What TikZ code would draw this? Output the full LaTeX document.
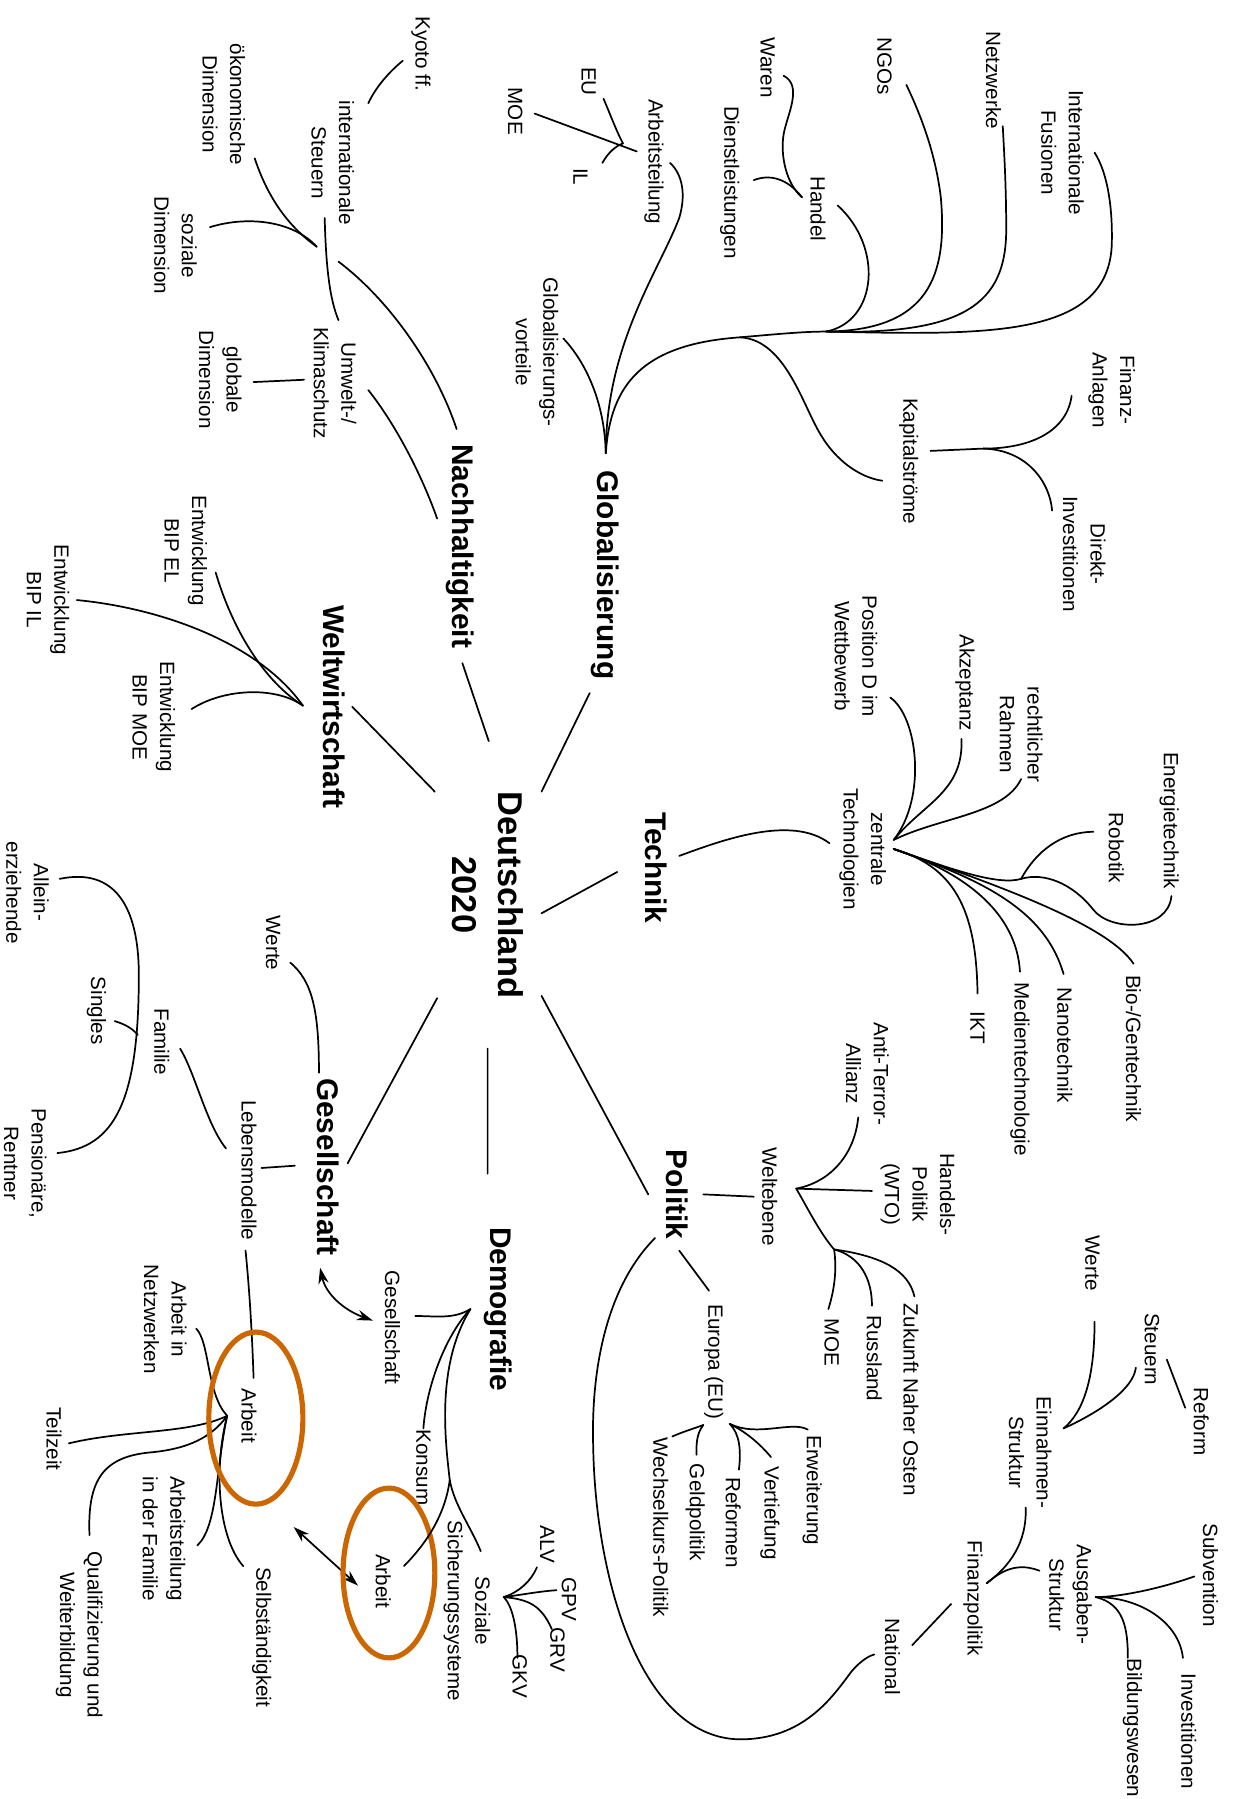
\documentclass[tikz,border=0pt]{standalone}
\usepackage{fontspec}
\setmainfont{Liberation Sans}
\usepackage{tikz}
\usetikzlibrary{calc, positioning, arrows.meta}
\definecolor{ringorange}{RGB}{204,102,0}

\begin{document}
\begin{tikzpicture}[x=1pt,y=-1pt,
 lbl/.style={rotate=-90,align=center,inner sep=0pt,font=\fontsize{18}{24}\selectfont},
 hd/.style={rotate=-90,align=center,inner sep=0pt,font=\bfseries\fontsize{26}{30}\selectfont},
 ln/.style={line width=1.5pt,line cap=round},
 ring/.style={draw=ringorange,line width=4.5pt},
 dbl/.style={ln,arrows={Stealth[length=14pt,width=9pt]-Stealth[length=14pt,width=9pt]}}]
\useasboundingbox (0,0) rectangle (1074,1568);

%centre and main branches
\node[hd,font=\bfseries\fontsize{30}{40}\selectfont] (d2020) at (425,780) {Deutschland\\2020};
\node[hd] (glob) at (527,501) {Globalisierung};
\node[hd] (nach) at (401,476) {Nachhaltigkeit};
\node[hd] (welt) at (291,616) {Weltwirtschaft};
\node[hd] (tech) at (572,756) {Technik};
\node[hd] (gesell) at (286,1017) {Gesellschaft};
\node[hd] (demo) at (434,1141) {Demografie};
\node[hd] (pol) at (590,1041) {Politik};

%Globalisierung
\node[lbl] (gvort) at (468,307) {Globalisierungs-\\vorteile};
\node[lbl] (arbt) at (570,141) {Arbeitsteilung};
\node[lbl] (eu) at (513,71) {EU};
\node[lbl] (moeG) at (449,97) {MOE};
\node[lbl] (il) at (506,154) {IL};
\node[lbl] (waren) at (669,59) {Waren};
\node[lbl] (dienst) at (636,159) {Dienstleistungen};
\node[lbl] (handel) at (713,182) {Handel};
\node[lbl] (ngos) at (771,58) {NGOs};
\node[lbl] (netzw) at (866,70) {Netzwerke};
\node[lbl] (fusion) at (926,133) {Internationale\\Fusionen};
\node[lbl] (kapital) at (792,402) {Kapitalströme};
\node[lbl] (finanz) at (969,340) {Finanz-\\Anlagen};
\node[lbl] (direkt) at (945,483) {Direkt-\\Investitionen};

%Nachhaltigkeit
\node[lbl] (kyoto) at (367,47) {Kyoto ff.};
\node[lbl] (intst) at (290,142) {internationale\\Steuern};
\node[lbl] (oeko) at (195,91) {ökonomische\\Dimension};
\node[lbl] (sozd) at (153,214) {soziale\\Dimension};
\node[lbl] (umwelt) at (292,334) {Umwelt-/\\Klimaschutz};
\node[lbl] (globd) at (192,331) {globale\\Dimension};

%Weltwirtschaft
\node[lbl] (bipel) at (162,480) {Entwicklung\\BIP EL};
\node[lbl] (bipil) at (42,523) {Entwicklung\\BIP IL};
\node[lbl] (bipmoe) at (134,625) {Entwicklung\\BIP MOE};

%Technik
\node[lbl] (zentral) at (752,740) {zentrale\\Technologien};
\node[lbl] (posd) at (746,572) {Position D im\\Wettbewerb};
\node[lbl] (akzept) at (841,595) {Akzeptanz};
\node[lbl] (recht) at (890,640) {rechtlicher\\Rahmen};
\node[lbl] (energie) at (1019,715) {Energietechnik};
\node[lbl] (robotik) at (973,739) {Robotik};
\node[lbl] (bio) at (988,914) {Bio-/Gentechnik};
\node[lbl] (nano) at (928,911) {Nanotechnik};
\node[lbl] (medien) at (889,932) {Medientechnologie};
\node[lbl] (ikt) at (852,896) {IKT};

%Gesellschaft
\node[lbl] (werte) at (238,822) {Werte};
\node[lbl] (allein) at (24,778) {Allein-\\erziehende};
\node[lbl] (singles) at (84,881) {Singles};
\node[lbl] (familie) at (141,908) {Familie};
\node[lbl] (pension) at (22,1014) {Pensionäre,\\Rentner};
\node[lbl] (lebens) at (217,1020) {Lebensmodelle};
\node[lbl] (arbeitL) at (217,1234) {Arbeit};
\node[lbl] (netzarb) at (144,1150) {Arbeit in\\Netzwerken};
\node[lbl] (teilzeit) at (47,1254) {Teilzeit};
\node[lbl] (quali) at (69,1425) {Qualifizierung und\\Weiterbildung};
\node[lbl] (atfam) at (143,1341) {Arbeitsteilung\\in der Familie};
\node[lbl] (selbst) at (228,1427) {Selbständigkeit};

%Demografie
\node[lbl] (gesklein) at (342,1157) {Gesellschaft};
\node[lbl] (konsum) at (369,1279) {Konsum};
\node[lbl] (sozsys) at (407,1404) {Soziale\\Sicherungssysteme};
\node[lbl] (arbeitR) at (334,1378) {Arbeit};
\node[lbl] (alv) at (477,1346) {ALV};
\node[lbl] (gpv) at (496,1394) {GPV};
\node[lbl] (grv) at (486,1438) {GRV};
\node[lbl] (gkv) at (453,1461) {GKV};

%Politik
\node[lbl] (weltebene) at (671,1043) {Weltebene};
\node[lbl] (anti) at (756,936) {Anti-Terror-\\Allianz};
\node[lbl] (handelsp) at (800,1041) {Handels-\\Politik\\(WTO)};
\node[lbl] (zukunft) at (794,1220) {Zukunft Naher Osten};
\node[lbl] (russland) at (762,1184) {Russland};
\node[lbl] (moeP) at (725,1170) {MOE};
\node[lbl] (europa) at (622,1187) {Europa (EU)};
\node[lbl] (erweit) at (708,1299) {Erweiterung};
\node[lbl] (vertief) at (671,1319) {Vertiefung};
\node[lbl] (reformen) at (639,1327) {Reformen};
\node[lbl] (geld) at (606,1318) {Geldpolitik};
\node[lbl] (wechsel) at (576,1331) {Wechselkurs-Politik};
\node[lbl] (national) at (778,1444) {National};
\node[lbl] (finpol) at (848,1393) {Finanzpolitik};
\node[lbl] (einn) at (898,1266) {Einnahmen-\\Struktur};
\node[lbl] (werte2) at (952,1101) {Werte};
\node[lbl] (steuern) at (1004,1176) {Steuern};
\node[lbl] (reform) at (1047,1239) {Reform};
\node[lbl] (ausg) at (933,1390) {Ausgaben-\\Struktur};
\node[lbl] (subv) at (1055,1373) {Subvention};
\node[lbl] (invest) at (1036,1509) {Investitionen};
\node[lbl] (bildung) at (987,1506) {Bildungswesen};

%line ends and branch points
\foreach \n/\x/\y in {g0/514/604, g1/472/690, n0/403/578, n1/426/646, w0/307/616, w1/379/690,
  t0/538/760, t1/472/796, s0/303/1014, s1/381/870, d0/425/1023, d1/425/914, p0/565/1041, p1/472/868,
  gj/528/395, gvE/491/295, atE/584/142, kb/645/294, gb/720/289, kapE/769/419, hdE/730/179,
  ngE/790/74, nwE/874/110, fuE/954/133, wdh/699/172, waE/683/66, diE/657/157, kapR/811/393,
  kh/857/391, fiE/934/345, dkE/917/445, eh/543/125, euE/526/86, moeA/466/99, moeB/555/132, ilE/525/142,
  kyA/351/53, kyB/321/90, nh1/276/215, oeE/222/138, soE/183/198, inE/283/190, umE/295/279,
  nh2/295/228, naE/398/374, glE/221/333, umB/265/331, umC/321/340, naF/381/452,
  wwh/264/615, elE/188/499, ilF/67/523, meE/167/618,
  tzA/592/746, tzB/723/735, th/779/732, th2/779/740, th3/890/766, poE/776/608, akE/838/644,
  reE/890/679, iktE/852/866, mdE/889/847, naG/927/849, bioE/988/840, roE/953/725, enE/1021/781,
  weA/253/839, weB/278/935, alE/52/766, peE/50/1005, fmC/121/850, siE/100/890, siB/120/902,
  faE/157/914, leE/197/1001, lsA/228/1018, lsB/257/1016, ar1/279/1105, ar2/325/1151,
  leB/214/1090, alB/221/1201, ah/198/1234, nwF/171/1158, tzE/60/1258, quE/78/1338,
  afE/172/1347, seE/212/1365, ringL/223/1236, ringR/339/1371, ar3/256/1331, ar4/312/1382,
  dh/410/1141, gsE/362/1147, koE/369/1245, dj/392/1290, szE/419/1352, arE/352/1365,
  sh/439/1392, alvE/468/1366, gpvE/485/1386, grvE/481/1420, gkvE/451/1445,
  pw1/613/1041, pw2/657/1043, wh2/694/1036, wh3/727/1089, anE/748/974, htE/760/1038,
  mpE/722/1141, ruE/760/1138, zuE/797/1130, pe1/592/1090, pe2/618/1125, euL/613/1242,
  euR/636/1241, erE/704/1246, veE/672/1270, rfE/644/1281, geE/607/1268, wkE/586/1252,
  plE/571/1079, ntE/762/1442, nf1/795/1434, nf2/829/1398, fh/860/1380, eiE/894/1314,
  auE/906/1369, eh2/927/1245, wrE/954/1152, stE/990/1192, sr1/1017/1185, sr2/1033/1227,
  ah2/955/1392, suE/1041/1374, ivE/1031/1445, biE/983/1445}
  \coordinate (\n) at (\x,\y);

%spokes
\draw[ln] (g0) -- (g1) (n0) -- (n1) (w0) -- (w1) (t0) -- (t1)
  (s0) -- (s1) (d0) -- (d1) (p0) -- (p1);

%Globalisierung
\draw[ln] (gj) .. controls (527,350) and (510,315) .. (gvE);
\draw[ln] (gj) .. controls (528,300) and (575,235) .. (592,190) .. controls (598,170) and (595,152) .. (atE);
\draw[ln] (gj) .. controls (532,335) and (560,300) .. (kb) .. controls (680,291) and (700,289) .. (gb);
\draw[ln] (kb) .. controls (685,296) and (700,355) .. (716,380) .. controls (728,400) and (748,416) .. (kapE);
\draw[ln] (gb) .. controls (765,280) and (770,215) .. (hdE);
\draw[ln] (gb) .. controls (810,288) and (826,240) .. (820,172) .. controls (815,130) and (800,95) .. (ngE);
\draw[ln] (gb) .. controls (840,292) and (877,265) .. (877,200) .. controls (877,160) and (875,130) .. (nwE);
\draw[ln] (gb) .. controls (860,292) and (965,295) .. (969,214) .. controls (970,180) and (965,150) .. (fuE);
\draw[ln] (waE) .. controls (700,75) and (686,100) .. (683,117) .. controls (680,135) and (685,160) .. (wdh);
\draw[ln] (diE) .. controls (675,150) and (690,160) .. (wdh);
\draw[ln] (kapR) -- (kh);
\draw[ln] (kh) .. controls (900,391) and (930,375) .. (fiE);
\draw[ln] (kh) .. controls (895,392) and (915,420) .. (dkE);
\draw[ln] (euE) .. controls (532,100) and (538,116) .. (eh);
\draw[ln] (moeA) -- (moeB);
\draw[ln] (ilE) .. controls (530,133) and (537,127) .. (eh);

%Nachhaltigkeit
\draw[ln] (kyA) .. controls (340,62) and (328,75) .. (kyB);
\draw[ln] (oeE) .. controls (232,168) and (248,195) .. (nh1);
\draw[ln] (soE) .. controls (215,188) and (255,192) .. (nh1);
\draw[ln] (inE) .. controls (284,230) and (287,260) .. (umE);
\draw[ln] (nh2) .. controls (340,262) and (380,320) .. (naE);
\draw[ln] (glE) -- (umB);
\draw[ln] (umC) .. controls (345,370) and (368,415) .. (naF);

%Weltwirtschaft
\draw[ln] (elE) .. controls (200,540) and (225,590) .. (wwh);
\draw[ln] (ilF) .. controls (140,530) and (225,560) .. (wwh);
\draw[ln] (meE) .. controls (195,600) and (240,598) .. (wwh);

%Technik
\draw[ln] (tzA) .. controls (630,732) and (690,710) .. (tzB);
\draw[ln] (poE) .. controls (800,625) and (808,695) .. (th);
\draw[ln] (akE) .. controls (840,690) and (805,700) .. (th);
\draw[ln] (reE) .. controls (875,710) and (820,712) .. (th);
\draw[ln] (th2) .. controls (830,755) and (851,790) .. (iktE);
\draw[ln] (th2) .. controls (840,760) and (886,795) .. (mdE);
\draw[ln] (th2) .. controls (850,765) and (910,790) .. (naG);
\draw[ln] (th2) .. controls (865,770) and (965,805) .. (bioE);
\draw[ln] (th2) .. controls (830,758) and (870,772) .. (th3) .. controls (903,742) and (925,725) .. (roE);
\draw[ln] (th3) .. controls (910,760) and (935,770) .. (953,793) .. controls (968,812) and (1018,812) .. (enE);

%Gesellschaft
\draw[ln] (weA) .. controls (272,855) and (278,880) .. (weB);
\draw[ln] (alE) .. controls (100,756) and (121,790) .. (fmC) .. controls (121,960) and (100,1000) .. (peE);
\draw[ln] (siE) .. controls (110,893) and (116,897) .. (siB);
\draw[ln] (faE) .. controls (170,935) and (180,980) .. (leE);
\draw[ln] (lsA) -- (lsB);
\draw[ln] (leB) .. controls (218,1130) and (220,1170) .. (alB);
\draw[ln] (nwF) .. controls (183,1170) and (180,1215) .. (ah);
\draw[ln] (tzE) .. controls (110,1246) and (165,1250) .. (ah);
\draw[ln] (quE) .. controls (76,1290) and (90,1270) .. (130,1266) .. controls (165,1263) and (185,1252) .. (ah);
\draw[ln] (afE) .. controls (190,1330) and (188,1280) .. (ah);
\draw[ln] (seE) .. controls (190,1340) and (186,1280) .. (ah);
\draw[dbl] (ar1) .. controls (284,1128) and (300,1142) .. (ar2);
\draw[dbl] (ar3) -- (ar4);
\draw[ring] (ringL) ellipse [x radius=41pt, y radius=75pt];
\draw[ring] (ringR) ellipse [x radius=40pt, y radius=74pt];

%Demografie
\draw[ln] (dh) .. controls (395,1150) and (380,1147) .. (gsE);
\draw[ln] (dh) .. controls (390,1162) and (372,1205) .. (koE);
\draw[ln] (dh) .. controls (380,1190) and (388,1255) .. (dj) .. controls (396,1312) and (410,1330) .. (szE);
\draw[ln] (dj) .. controls (388,1320) and (372,1345) .. (arE);
\draw[ln] (sh) .. controls (452,1388) and (463,1378) .. (alvE);
\draw[ln] (sh) .. controls (455,1390) and (470,1387) .. (gpvE);
\draw[ln] (sh) .. controls (462,1394) and (472,1400) .. (grvE);
\draw[ln] (sh) .. controls (447,1400) and (451,1420) .. (gkvE);

%Politik
\draw[ln] (pw1) -- (pw2) (pe1) -- (pe2) (wh2) -- (htE) (nf1) -- (nf2) (sr1) -- (sr2);
\draw[ln] (anE) .. controls (745,1005) and (725,1030) .. (wh2);
\draw[ln] (wh2) .. controls (705,1055) and (715,1075) .. (wh3);
\draw[ln] (wh3) .. controls (730,1110) and (726,1128) .. (mpE);
\draw[ln] (wh3) .. controls (750,1095) and (760,1115) .. (ruE);
\draw[ln] (wh3) .. controls (770,1095) and (792,1108) .. (zuE);
\draw[ln] (euR) .. controls (660,1253) and (690,1238) .. (erE);
\draw[ln] (euR) .. controls (650,1248) and (662,1258) .. (veE);
\draw[ln] (euR) .. controls (645,1250) and (646,1265) .. (rfE);
\draw[ln] (euL) .. controls (607,1250) and (607,1258) .. (geE);
\draw[ln] (euL) .. controls (605,1245) and (595,1248) .. (wkE);
\draw[ln] (plE) .. controls (530,1120) and (515,1190) .. (517,1260) .. controls (519,1380) and (560,1515) .. (645,1516)
  .. controls (700,1516) and (725,1480) .. (742,1457) .. controls (748,1450) and (755,1444) .. (ntE);
\draw[ln] (fh) .. controls (880,1365) and (895,1345) .. (eiE);
\draw[ln] (fh) .. controls (880,1362) and (895,1365) .. (auE);
\draw[ln] (wrE) .. controls (954,1200) and (945,1230) .. (eh2);
\draw[ln] (eh2) .. controls (960,1230) and (988,1210) .. (stE);
\draw[ln] (ah2) .. controls (975,1392) and (1010,1385) .. (suE);
\draw[ln] (ah2) .. controls (995,1392) and (1028,1415) .. (ivE);
\draw[ln] (ah2) .. controls (980,1398) and (983,1420) .. (biE);
\end{tikzpicture}
\end{document}
